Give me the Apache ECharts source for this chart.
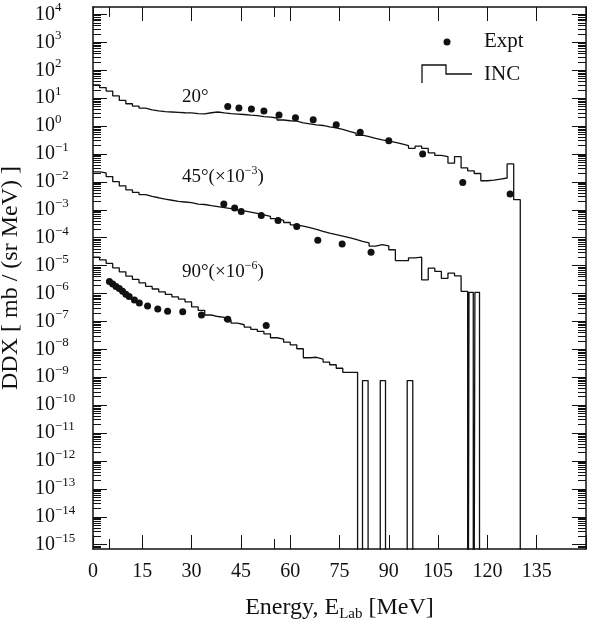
<!DOCTYPE html>
<html>
<head>
<meta charset="utf-8">
<script src="https://cdn.jsdelivr.net/npm/echarts@6/dist/echarts.min.js"></script>
<style>
    html, body {margin: 0; padding: 0; background: #fff;}
    #chart {width: 590px; height: 628px;}
</style>
</head>
<body>
<div id="chart"></div>
<script>
/**
 * DATA
 */
// INC histograms: left bin edge [MeV] -> DDX, 0 means an empty bin
var inc20Edges = [0, 2, 4, 6, 8, 10, 12, 14, 16, 18, 20, 22, 24, 26, 28, 30, 32, 34, 36, 38,
    40, 42, 44, 46, 48, 50, 52, 54, 56, 58, 60, 62, 64, 66, 68, 70, 72, 74, 76, 78,
    80, 82, 84, 86, 88, 90, 92, 94, 96, 98, 100, 102, 104, 106, 108, 110, 112, 114, 116, 118,
    120, 122, 124, 126, 128, 130];
var inc20Values = [30, 24, 18, 12, 8.3, 6.3, 5.2, 4.4, 3.8, 3.5, 3.3, 3.2, 3.1, 3.0, 2.95, 2.8, 2.75, 3.0, 3.2, 2.95,
    2.8, 2.7, 2.6, 2.45, 2.35, 2.2, 2.1, 1.95, 1.65, 1.55, 1.5, 1.3, 1.2, 1.1, 1.05, 0.93, 0.87, 0.76, 0.65, 0.56,
    0.47, 0.42, 0.36, 0.32, 0.29, 0.26, 0.23, 0.20, 0.16, 0.19, 0.16, 0.11, 0.089, 0.081, 0.047, 0.081, 0.032, 0.025, 0.020, 0.011,
    0.0115, 0.0126, 0.0138, 0.044, 0.0023, 0];

var inc45Edges = [0, 2, 4, 6, 8, 10, 12, 14, 16, 18, 20, 22, 24, 26, 28, 30, 32, 34, 36, 38,
    40, 42, 44, 46, 48, 50, 52, 54, 56, 58, 60, 62, 64, 66, 68, 70, 72, 74, 76, 78,
    80, 82, 84, 86, 88, 90, 92, 94, 96, 98, 100, 102, 104, 106, 108, 110, 112,
    114, 114.4, 115.7, 116.2, 117.6];
var inc45Values = [0.023, 0.021, 0.0155, 0.0102, 0.0072, 0.0052, 0.0042, 0.0035, 0.0030, 0.0027,
    0.0024, 0.0022, 0.0020, 0.0019, 0.0018, 0.0016, 0.00155, 0.0014, 0.0013, 0.0012,
    0.0011, 0.0010, 9.1e-4, 8.3e-4, 7.4e-4, 6.6e-4, 5.8e-4, 4.8e-4, 4.2e-4, 3.5e-4,
    2.9e-4, 2.6e-4, 2.3e-4, 2.0e-4, 1.7e-4, 1.45e-4, 1.3e-4, 1.15e-4, 1.0e-4, 8.7e-5,
    7.4e-5, 6.5e-5, 5.0e-5, 5.6e-5, 5.1e-5, 3.7e-5, 1.5e-5, 1.5e-5, 1.9e-5, 2.0e-5,
    3.1e-6, 8.1e-6, 6.2e-6, 3.5e-6, 5.4e-6, 4.3e-6, 1.2e-6,
    0, 1.1e-6, 0, 1.1e-6, 0];

var inc90Edges = [0, 2, 4, 6, 8, 10, 12, 14, 16, 18, 20, 22, 24, 26, 28, 30, 32, 34, 36, 38,
    40, 42, 44, 46, 48, 50, 52, 54, 56, 58, 60, 62, 64, 66, 68, 70, 72, 74, 76, 78,
    80.5, 82, 83.7, 87.4, 89, 95.6, 97.3];
var inc90Values = [2.0e-5, 1.6e-5, 1.2e-5, 8.3e-6, 6.0e-6, 4.2e-6, 3.2e-6, 2.4e-6, 1.8e-6, 1.45e-6,
    1.15e-6, 9.3e-7, 7.6e-7, 6.3e-7, 5.0e-7, 3.3e-7, 2.5e-7, 1.7e-7, 1.5e-7, 1.4e-7,
    1.1e-7, 8.7e-8, 7.6e-8, 6.3e-8, 5.2e-8, 4.4e-8, 3.6e-8, 2.6e-8, 2.3e-8, 1.8e-8,
    1.45e-8, 1.05e-8, 5.0e-9, 5.2e-9, 4.5e-9, 3.5e-9, 2.8e-9, 2.1e-9, 1.5e-9, 1.5e-9,
    0, 7.6e-10, 0, 7.6e-10, 0, 7.6e-10, 0];

// experiment
var expt20Energy = [41, 44.4, 48.2, 52, 56.6, 61.6, 67, 74, 81.3, 90, 100.3, 112.5, 126.9];
var expt20Values = [5.0, 4.4, 4.1, 3.5, 2.5, 2.0, 1.7, 1.12, 0.60, 0.30, 0.10, 0.0095, 0.0037];
var expt45Energy = [39.8, 43.1, 45.1, 51.2, 56.3, 62, 68.4, 75.8, 84.6];
var expt45Values = [1.6e-3, 1.15e-3, 8.7e-4, 6.3e-4, 4.1e-4, 2.5e-4, 8.1e-5, 6.0e-5, 3.0e-5];
var expt90Energy = [5, 6, 7, 8, 9, 10, 11, 12.6, 14.1, 16.6, 19.7, 22.7, 27.3, 33, 41, 52.7];
var expt90Values = [2.7e-6, 2.2e-6, 1.8e-6, 1.5e-6, 1.2e-6, 9.5e-7, 7.8e-7, 5.9e-7, 4.6e-7, 3.6e-7,
    2.8e-7, 2.3e-7, 2.2e-7, 1.7e-7, 1.2e-7, 7.2e-8];

// axes
var xTicks = [0, 15, 30, 45, 60, 75, 90, 105, 120, 135, 150];
var xMinorTicks = [5, 55];
var yTicks = [1e-15, 1e-14, 1e-13, 1e-12, 1e-11, 1e-10, 1e-9, 1e-8, 1e-7, 1e-6,
    1e-5, 1e-4, 1e-3, 1e-2, 1e-1, 1e0, 1e1, 1e2, 1e3, 1e4];
var X_MIN = 0, X_MAX = 150;
var Y_MIN = 7e-16, Y_MAX = 1.85e4;

/**
 * CODE
 */
var SERIF = 'Liberation Serif';
var INK = '#111';
var EMPTY = 1e-30; // stands in for zero on the log axis, lands below the frame and gets clipped

var yMinorTicks = [];
for (var d = -16; d <= 4; d++) {
    for (var k = 2; k <= 9; k++) {
        var v = k * Math.pow(10, d);
        if (v > Y_MIN && v < Y_MAX) {
            yMinorTicks.push(v);
        }
    }
}

function histogram(edges, values) {
    return edges.map(function (e, i) {
        return [e, values[i] > 0 ? values[i] : EMPTY];
    });
}

function points(energy, values) {
    return energy.map(function (e, i) {
        return [e, values[i]];
    });
}

function expLabel(value) {
    var p = Math.round(Math.log(value) / Math.LN10);
    return '{b|10}{e|' + String(p).replace('-', '\u2212') + '}';
}

function xAxisDef(position, ticks, len, main) {
    return {
        type: 'value', position: position, min: X_MIN, max: X_MAX,
        interval: main ? 15 : undefined,
        name: main && position === 'bottom' ? '{a|Energy, E}{s|Lab}{a| [MeV]}' : '',
        nameLocation: 'middle',
        nameGap: 45,
        nameTextStyle: {
            rich: {
                a: {fontFamily: SERIF, fontSize: 24, color: INK, lineHeight: 28},
                s: {fontFamily: SERIF, fontSize: 15, color: INK, lineHeight: 12, verticalAlign: 'bottom'}
            }
        },
        axisLine: {show: main, onZero: false, lineStyle: {color: INK, width: 1.5}},
        axisTick: {show: true, inside: true, length: len, customValues: ticks, lineStyle: {color: INK, width: 1}},
        axisLabel: {
            show: main && position === 'bottom',
            customValues: xTicks.slice(0, -1),
            margin: 13,
            fontFamily: SERIF, fontSize: 20, color: INK
        },
        splitLine: {show: false}
    };
}

function yAxisDef(position, ticks, len, main) {
    return {
        type: 'log', logBase: 10, position: position, min: Y_MIN, max: Y_MAX,
        name: main && position === 'left' ? 'DDX [ mb / (sr MeV) ]' : '',
        nameLocation: 'middle',
        nameGap: 70,
        nameTextStyle: {fontFamily: SERIF, fontSize: 24, color: INK},
        axisLine: {show: main, onZero: false, lineStyle: {color: INK, width: 1.5}},
        axisTick: {show: true, inside: true, length: len, customValues: ticks, lineStyle: {color: INK, width: 1}},
        axisLabel: {
            show: main && position === 'left',
            customValues: yTicks,
            align: 'left',
            margin: 58,
            formatter: expLabel,
            rich: {
                b: {fontFamily: SERIF, fontSize: 20, color: INK, lineHeight: 26},
                e: {fontFamily: SERIF, fontSize: 13, color: INK, lineHeight: 13, verticalAlign: 'top'}
            }
        },
        splitLine: {show: false}
    };
}

function incSeries(name, edges, values) {
    return {
        name: name, type: 'line', step: 'end', clip: true,
        data: histogram(edges, values),
        symbol: 'none',
        lineStyle: {color: INK, width: 1.3}
    };
}

function exptSeries(name, energy, values) {
    return {
        name: name, type: 'scatter',
        data: points(energy, values),
        symbol: 'circle', symbolSize: 7,
        itemStyle: {color: INK, opacity: 1}
    };
}

function note(x, y, text) {
    return {
        type: 'text', x: x, y: y,
        style: {
            text: text, verticalAlign: 'middle', fill: INK,
            fontFamily: SERIF, fontSize: 19,
            rich: {
                a: {fontFamily: SERIF, fontSize: 19, fill: INK, lineHeight: 24},
                s: {fontFamily: SERIF, fontSize: 12, fill: INK, lineHeight: 12, verticalAlign: 'top'}
            }
        }
    };
}

var chart = echarts.init(document.getElementById('chart'), null, {renderer: 'canvas'});
chart.setOption({
    animation: false,
    backgroundColor: '#fff',
    grid: {left: 93, right: 4, top: 7, bottom: 79, containLabel: false, outerBoundsMode: 'none'},
    xAxis: [
        xAxisDef('bottom', xTicks, 14, true),
        xAxisDef('top', xTicks, 14, true),
        xAxisDef('bottom', xMinorTicks, 10, false),
        xAxisDef('top', xMinorTicks, 10, false)
    ],
    yAxis: [
        yAxisDef('left', yTicks, 14, true),
        yAxisDef('right', yTicks, 14, true),
        yAxisDef('left', yMinorTicks, 8, false),
        yAxisDef('right', yMinorTicks, 8, false)
    ],
    series: [
        incSeries('INC 20', inc20Edges, inc20Values),
        incSeries('INC 45', inc45Edges, inc45Values),
        incSeries('INC 90', inc90Edges, inc90Values),
        exptSeries('Expt 20', expt20Energy, expt20Values),
        exptSeries('Expt 45', expt45Energy, expt45Values),
        exptSeries('Expt 90', expt90Energy, expt90Values)
    ],
    graphic: [
        note(182, 97, '{a|20°}'),
        note(182, 177, '{a|45°(×10}{s|\u22123}{a|)}'),
        note(182, 272, '{a|90°(×10}{s|\u22126}{a|)}'),
        // legend
        {type: 'circle', shape: {cx: 447, cy: 42, r: 3.5}, style: {fill: INK}},
        {type: 'text', x: 484, y: 41, style: {text: 'Expt', fontFamily: SERIF, fontSize: 21, fill: INK, verticalAlign: 'middle'}},
        {type: 'polyline', shape: {points: [[422, 83], [422, 65], [446, 65], [446, 74], [472, 74]]},
            style: {stroke: INK, lineWidth: 1.3, fill: null}},
        {type: 'text', x: 484, y: 74, style: {text: 'INC', fontFamily: SERIF, fontSize: 21, fill: INK, verticalAlign: 'middle'}}
    ]
});
</script>
</body>
</html>
